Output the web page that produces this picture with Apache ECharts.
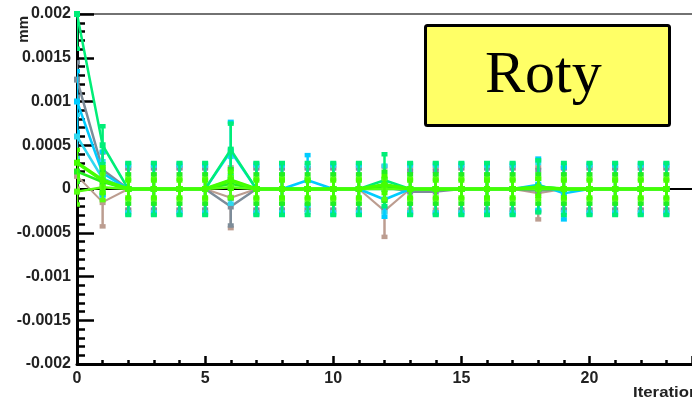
<!DOCTYPE html>
<html>
<head>
<meta charset="utf-8">
<script src="https://cdn.jsdelivr.net/npm/echarts@6/dist/echarts.min.js"></script>
<style>
  html, body { margin: 0; padding: 0; background: #fff; }
  #chart { width: 692px; height: 407px; }
</style>
</head>
<body>
<div id="chart"></div>
<script>
// Alignment parameter Roty (mm) per iteration, several fits with errors
const iterations = [0, 1, 2, 3, 4, 5, 6, 7, 8, 9, 10, 11, 12, 13, 14, 15, 16, 17, 18, 19, 20, 21, 22, 23];

const brownVals  = [0.00015, -0.00015, 0, 0, 0, 0, -0.0001, 0, 0, 0, 0, 0, -0.00025, 0, 0, 0, 0, 0, -0.00005, 0, 0, 0, 0, 0];
const brownErrs  = [0.00015, 0.00028, 0.00024, 0.00024, 0.00024, 0.00024, 0.00035, 0.00024, 0.00024, 0.00024, 0.00024, 0.00024, 0.0003, 0.00024, 0.00024, 0.00024, 0.00024, 0.00024, 0.0003, 0.00024, 0.00024, 0.00024, 0.00024, 0.00024];

const grayVals   = [0.00125, 0.00022, 0, 0, 0, 0, -0.0002, 0, 0, 0, 0, 0, 0.00002, -0.00003, -0.00003, 0, 0, 0, -0.00002, 0, 0, 0, 0, 0];
const grayErrs   = [0.0002, 0.0002, 0.00024, 0.00024, 0.00024, 0.00024, 0.00022, 0.00024, 0.00024, 0.00024, 0.00024, 0.00024, 0.00024, 0.00024, 0.00024, 0.00024, 0.00024, 0.00024, 0.00024, 0.00024, 0.00024, 0.00024, 0.00024, 0.00024];

const cyanBVals  = [0.0006, 0.00012, 0, 0, 0, 0, 0.0001, 0, 0, 0, 0, 0, 0, 0, 0, 0, 0, 0, 0.00003, 0, 0, 0, 0, 0];
const cyanBErrs  = [0.00025, 0.0002, 0.00027, 0.00027, 0.00027, 0.00027, 0.00027, 0.00027, 0.00027, 0.00027, 0.00027, 0.00027, 0.00027, 0.00027, 0.00027, 0.00027, 0.00027, 0.00027, 0.00027, 0.00027, 0.00027, 0.00027, 0.00027, 0.00027];

const cyanVals   = [0.001, 0.00018, 0, 0, 0, 0, 0.00043, 0, 0, 0.0001, 0, 0, -0.00012, 0, 0, 0, 0, 0, 0.00005, -0.00005, 0, 0, 0, 0];
const cyanErrs   = [0.00035, 0.00025, 0.00029, 0.00029, 0.00029, 0.00029, 0.00034, 0.00029, 0.00029, 0.00029, 0.00029, 0.00029, 0.0002, 0.00029, 0.00029, 0.00029, 0.00029, 0.00029, 0.0003, 0.0003, 0.00029, 0.00029, 0.00029, 0.00029];

const springVals = [0.002, 0.0005, 0, 0, 0, 0, 0.00045, 0, 0, 0, 0, 0, 0.0001, 0, 0, 0, 0, 0, 0.00003, 0, 0, 0, 0, 0];
const springErrs = [0.0004, 0.00022, 0.0003, 0.0003, 0.0003, 0.0003, 0.0003, 0.0003, 0.0003, 0.0003, 0.0003, 0.0003, 0.0003, 0.0003, 0.0003, 0.0003, 0.0003, 0.0003, 0.0003, 0.0003, 0.0003, 0.0003, 0.0003, 0.0003];

const greenBVals = [0.0002, 0.00008, 0, 0, 0, 0, 0.00006, 0, 0, 0, 0, 0, 0.00003, 0, 0, 0, 0, 0, 0, 0, 0, 0, 0, 0];
const greenBErrs = [0.00012, 0.00012, 0.00017, 0.00017, 0.00017, 0.00017, 0.00017, 0.00017, 0.00017, 0.00017, 0.00017, 0.00017, 0.00017, 0.00017, 0.00017, 0.00017, 0.00017, 0.00017, 0.00017, 0.00017, 0.00017, 0.00017, 0.00017, 0.00017];

const greenCVals = [-0.00003, 0.00002, 0, 0, 0, 0, 0.00002, 0, 0, 0, 0, 0, 0, 0, 0, 0, 0, 0, 0, 0, 0, 0, 0, 0];
const greenCErrs = [0.00015, 0.00015, 0.00012, 0.00012, 0.00012, 0.00012, 0.00012, 0.00012, 0.00012, 0.00012, 0.00012, 0.00012, 0.00012, 0.00012, 0.00012, 0.00012, 0.00012, 0.00012, 0.00012, 0.00012, 0.00012, 0.00012, 0.00012, 0.00012];

const lawnVals   = [0.0003, 0.0001, 0, 0, 0, 0, 0.0001, 0, 0, 0, 0, 0, 0.00005, 0, 0, 0, 0, 0, 0.00002, 0, 0, 0, 0, 0];
const lawnErrs   = [0.00015, 0.00015, 0.0001, 0.0001, 0.0001, 0.0001, 0.0001, 0.0001, 0.0001, 0.0001, 0.0001, 0.0001, 0.0001, 0.0001, 0.0001, 0.0001, 0.0001, 0.0001, 0.0001, 0.0001, 0.0001, 0.0001, 0.0001, 0.0001];

const yTicks = [-0.002, -0.0015, -0.001, -0.0005, 0, 0.0005, 0.001, 0.0015, 0.002];

const fits = [
  { name: 'brown',  color: '#bc9d90', width: 2,   vals: brownVals,  errs: brownErrs },
  { name: 'gray',   color: '#7d8c99', width: 2.5, vals: grayVals,   errs: grayErrs },
  { name: 'cyanB',  color: '#30d8f0', width: 2.5, vals: cyanBVals,  errs: cyanBErrs },
  { name: 'cyan',   color: '#00ccff', width: 2.5, vals: cyanVals,   errs: cyanErrs },
  { name: 'spring', color: '#00ee77', width: 2.5, vals: springVals, errs: springErrs },
  { name: 'greenB', color: '#22ee22', width: 2.5, vals: greenBVals, errs: greenBErrs },
  { name: 'greenC', color: '#55ff11', width: 2.5, vals: greenCVals, errs: greenCErrs },
  { name: 'lawn',   color: '#44ff00', width: 3.5, vals: lawnVals,   errs: lawnErrs }
];

const labelFont = { fontFamily: 'Liberation Sans, Arial, sans-serif', fontWeight: 'bold', fontSize: 16, color: '#222' };

const chart = echarts.init(document.getElementById('chart'), null, { renderer: 'canvas' });

function errorBars(color) {
  return function (params, api) {
    const x = api.value(0), y = api.value(1), e = api.value(2);
    const hi = api.coord([x, y + e]);
    const lo = api.coord([x, y - e]);
    const w = 3;
    return {
      type: 'group',
      children: [
        { type: 'line', shape: { x1: hi[0], y1: hi[1], x2: lo[0], y2: lo[1] }, style: { stroke: color, lineWidth: 2.5 } },
        { type: 'rect', shape: { x: hi[0] - w, y: hi[1] - 2, width: 2 * w, height: 4.5 }, style: { fill: color } },
        { type: 'rect', shape: { x: lo[0] - w, y: lo[1] - 2.5, width: 2 * w, height: 4.5 }, style: { fill: color } }
      ]
    };
  };
}

const series = [
  {
    // zero reference line
    type: 'line',
    data: [[0, 0], [24, 0]],
    symbol: 'none',
    lineStyle: { color: '#000', width: 2 },
    z: 1,
    silent: true
  }
];

fits.forEach(function (f, i) {
  series.push({
    type: 'custom',
    name: f.name + '-err',
    renderItem: errorBars(f.color),
    data: iterations.map(function (it, k) { return [it, f.vals[k], f.errs[k]]; }),
    clip: true,
    z: 2 + i * 2,
    silent: true
  });
  series.push({
    type: 'line',
    name: f.name,
    data: iterations.map(function (it, k) { return [it, f.vals[k]]; }),
    symbol: 'rect',
    symbolSize: 6,
    itemStyle: { color: f.color },
    lineStyle: { color: f.color, width: f.width },
    z: 3 + i * 2,
    silent: true,
    animation: false
  });
});

chart.setOption({
  animation: false,
  backgroundColor: '#fff',
  grid: { left: 77, right: 0, top: 14, bottom: 43 },
  xAxis: [
    {
      type: 'value',
      min: 0, max: 24, interval: 5,
      position: 'bottom',
      axisLine: { show: true, onZero: false, lineStyle: { color: '#000', width: 3 } },
      axisTick: { show: true, inside: true, length: 8, lineStyle: { color: '#000', width: 2.5 } },
      minorTick: { show: true, splitNumber: 5, length: 4, lineStyle: { color: '#000', width: 2.5 } },
      axisLabel: Object.assign({ margin: 7, showMaxLabel: false }, labelFont),
      splitLine: { show: false }
    },
    {
      type: 'value',
      min: 0, max: 24,
      position: 'top',
      axisLine: { show: true, onZero: false, lineStyle: { color: '#444', width: 1.5 } },
      axisTick: { show: false },
      axisLabel: { show: false },
      splitLine: { show: false }
    }
  ],
  yAxis: {
    type: 'value',
    min: -0.002, max: 0.002, interval: 0.0005,
    axisLine: { show: true, onZero: false, lineStyle: { color: '#000', width: 3 } },
    axisTick: { show: true, inside: true, length: 17, lineStyle: { color: '#000', width: 2.5 } },
    minorTick: { show: true, splitNumber: 5, length: 8, lineStyle: { color: '#000', width: 2.5 } },
    axisLabel: Object.assign({
      margin: 6,
      formatter: function (v) {
        const t = yTicks.find(function (k) { return Math.abs(k - v) < 1e-9; });
        return t === undefined ? '' : String(t);
      }
    }, labelFont),
    splitLine: { show: false }
  },
  series: series,
  graphic: [
    {
      type: 'text',
      left: 16, top: 16,
      rotation: Math.PI / 2,
      style: { text: 'mm', font: 'bold 15px "Liberation Sans", Arial, sans-serif', fill: '#222' },
      z: 100
    },
    {
      type: 'text',
      x: 633, y: 386,
      scaleX: 1.2,
      style: { text: 'Iteration', font: 'bold 14px "Liberation Sans", Arial, sans-serif', fill: '#222' },
      z: 100
    },
    {
      type: 'rect',
      left: 424, top: 24,
      shape: { width: 244, height: 100, r: 2 },
      style: { fill: '#ffff66', stroke: '#000', lineWidth: 3 },
      z: 100
    },
    {
      type: 'text',
      left: 485, top: 46,
      style: { text: 'Roty', font: '60px "Liberation Serif", "Times New Roman", serif', fill: '#000' },
      z: 101
    }
  ]
});
</script>
</body>
</html>
